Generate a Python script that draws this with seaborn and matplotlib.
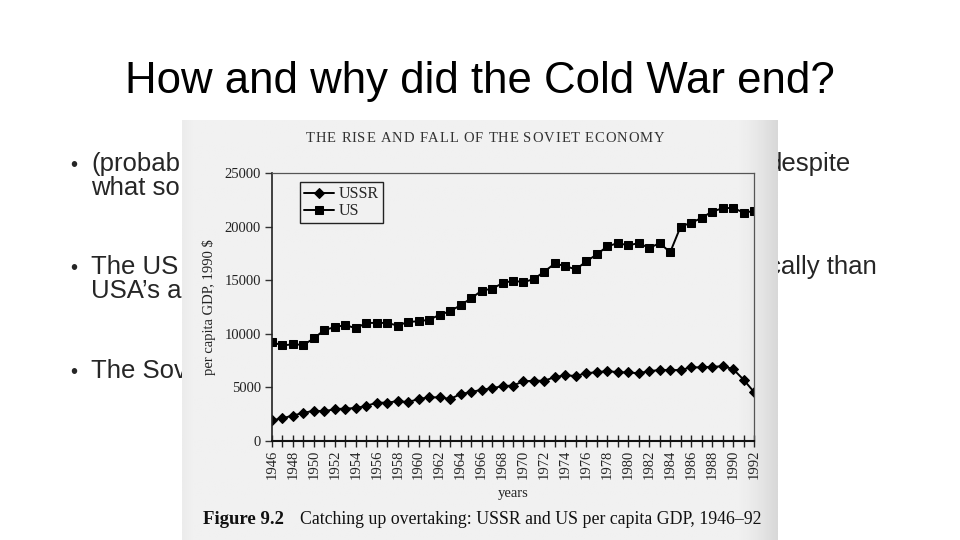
import numpy as np
import pandas as pd
import matplotlib
matplotlib.use("Agg")
import matplotlib.pyplot as plt
from matplotlib.font_manager import FontProperties
import seaborn as sns

years = list(range(1946, 1993))
ussr = [1900, 2100, 2350, 2600, 2800, 2750, 2950, 3000, 3050, 3250,
        3550, 3550, 3700, 3600, 3900, 4050, 4050, 3900, 4350, 4550,
        4750, 4900, 5100, 5150, 5550, 5600, 5600, 5950, 6100, 6050,
        6300, 6400, 6500, 6400, 6370, 6300, 6500, 6600, 6600, 6600,
        6850, 6850, 6900, 6950, 6700, 5700, 4550]
us = [9200, 8900, 9000, 8950, 9550, 10350, 10600, 10800, 10500, 11000,
      11000, 11000, 10750, 11100, 11150, 11300, 11750, 12100, 12650, 13300,
      14000, 14200, 14700, 14950, 14800, 15100, 15800, 16550, 16300, 16000,
      16750, 17400, 18150, 18450, 18250, 18450, 18000, 18450, 17600, 20000,
      20350, 20800, 21400, 21700, 21750, 21300, 21450]
series_names = ["USSR", "US"]
yticks = [0, 5000, 10000, 15000, 20000, 25000]
xtick_labels = list(range(1946, 1993, 2))

slide_title = "How and why did the Cold War end?"
left_lines = ["(probab", "what so", "The US", "USA’s a", "The Sov"]
right_lines = ["despite", "cally than"]
chart_title = "THE RISE AND FALL OF THE SOVIET ECONOMY"
caption_bold = "Figure 9.2"
caption_text = "Catching up overtaking: USSR and US per capita GDP, 1946–92"

df = pd.DataFrame({
    "year": years * 2,
    "gdp": ussr + us,
    "series": ["USSR"] * len(years) + ["US"] * len(years),
})

sns.set_style("white")
plt.rcParams["font.family"] = ["Liberation Sans", "DejaVu Sans"]

W, H = 960, 540
fig = plt.figure(figsize=(9.6, 5.4), dpi=100)
fig.patch.set_facecolor("white")

def fx(px):
    return px / W

def fy(py):
    return 1 - py / H

# slide text
fig.text(0.5, fy(82), slide_title, ha="center", va="center", fontsize=31.5,
         color="black")
fs = 18.5
bases = [171, 195, 274, 298, 378]
for i in (0, 2, 4):
    fig.text(fx(70), fy(bases[i]), "•", fontsize=fs * 0.8, va="baseline")
for txt, b in zip(left_lines, bases):
    fig.text(fx(91), fy(b), txt, fontsize=fs, va="baseline")
fig.text(fx(768), fy(bases[0]), right_lines[0], fontsize=fs, va="baseline")
fig.text(fx(768), fy(bases[2]), right_lines[1], fontsize=fs, va="baseline")

# scanned panel background with gradient
px0, px1, py0, py1 = 182, 778, 120, 540
bg = fig.add_axes([fx(px0), fy(py1), fx(px1 - px0), (py1 - py0) / H], zorder=5)
xs = np.linspace(0, 1, 300)
grad = 0.945 - 0.10 * np.clip((xs - 0.93) / 0.07, 0, 1) ** 1.5
grad = grad - 0.02 * np.clip((0.02 - xs) / 0.02, 0, 1)
bg.imshow(np.tile(grad, (10, 1)), cmap="gray", vmin=0, vmax=1, aspect="auto",
          extent=[0, 1, 0, 1])
bg.set_axis_off()

serif = ["Liberation Serif", "DejaVu Serif"]

# chart axes
ax = fig.add_axes([fx(272), fy(440.7), fx(754 - 272), (440.7 - 173) / H], zorder=6)
ax.set_facecolor("none")
sns.lineplot(data=df, x="year", y="gdp", hue="series", style="series",
             hue_order=series_names, style_order=series_names,
             palette={"USSR": "black", "US": "black"},
             markers={"USSR": "D", "US": "s"}, dashes=False,
             markersize=5.2, markeredgecolor="black", linewidth=1.4, ax=ax)
ax.set_xlim(1946, 1992)
ax.set_ylim(0, 25000)
ax.set_yticks(yticks)
ax.set_yticklabels([str(v) for v in yticks], family=serif, fontsize=10.5, color="#222222")
ax.set_xticks(years, minor=True)
ax.set_xticks(xtick_labels)
ax.set_xticklabels([str(v) for v in xtick_labels], rotation=90, family=serif,
                   fontsize=10.5, color="#222222")
ax.tick_params(axis="y", direction="out", length=5, width=1, color="#333333", pad=3, left=True)
ax.tick_params(axis="x", which="both", direction="inout", length=9, width=1,
               color="#222222", pad=2, bottom=True)
for side in ["top", "right"]:
    ax.spines[side].set_visible(True)
    ax.spines[side].set_color("#555555")
    ax.spines[side].set_linewidth(0.9)
ax.spines["left"].set_color("#222222")
ax.spines["left"].set_linewidth(1.2)
ax.spines["bottom"].set_color("#111111")
ax.spines["bottom"].set_linewidth(1.5)
ax.set_xlabel("years", family=serif, fontsize=10.5, color="#222222", labelpad=6)
ax.set_ylabel("per capita GDP, 1990 $", family=serif, fontsize=10.5, color="#222222", labelpad=6)
ax.grid(False)

leg = ax.legend(loc="upper left", bbox_to_anchor=(0.058, 0.965), borderaxespad=0,
                frameon=True, fancybox=False, edgecolor="#222222", facecolor="#f1f1f1",
                prop={"family": serif, "size": 11.5}, handlelength=1.9,
                handletextpad=0.3, borderpad=0.25, labelspacing=0.05, title=None)
leg.get_frame().set_linewidth(1.0)
leg.get_frame().set_alpha(1)

# letter-spaced chart title
renderer = fig.canvas.get_renderer()
tprops = FontProperties(family=serif, size=10.5)
widths = [renderer.get_text_width_height_descent(c, tprops, ismath=False)[0] for c in chart_title]
target_left, target_right = 306, 664
natural = sum(widths)
track = (target_right - target_left - natural) / (len(chart_title) - 1)
xpos = target_left
for c, w in zip(chart_title, widths):
    if c != " ":
        fig.text(fx(xpos), fy(142), c, ha="left", va="baseline", fontproperties=tprops,
                 color="#333333", zorder=7)
    xpos += w + track

fig.text(fx(203), fy(524), caption_bold, ha="left", va="baseline", fontsize=13.5,
         family=serif, weight="bold", color="#111111", zorder=7)
fig.text(fx(300), fy(524), caption_text,
         ha="left", va="baseline", fontsize=12.75, family=serif, color="#111111", zorder=7)

fig.savefig("out.png", dpi=100, facecolor="white")
